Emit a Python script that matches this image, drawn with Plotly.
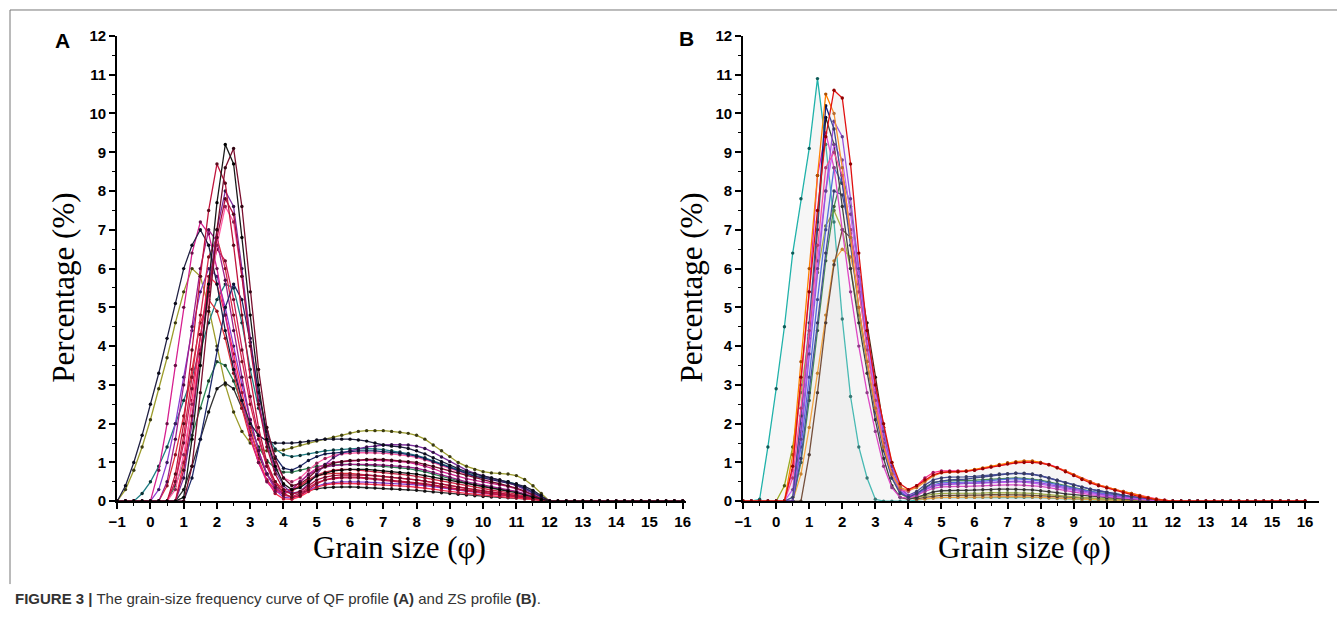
import plotly.graph_objects as go

# grain size grid (phi), -1 .. 12 every 0.25, then the flat tail up to 16
phi = [-1.0, -0.75, -0.5, -0.25, 0.0, 0.25, 0.5, 0.75, 1.0, 1.25, 1.5, 1.75, 2.0,
       2.25, 2.5, 2.75, 3.0, 3.25, 3.5, 3.75, 4.0, 4.25, 4.5, 4.75, 5.0, 5.25,
       5.5, 5.75, 6.0, 6.25, 6.5, 6.75, 7.0, 7.25, 7.5, 7.75, 8.0, 8.25, 8.5,
       8.75, 9.0, 9.25, 9.5, 9.75, 10.0, 10.25, 10.5, 10.75, 11.0, 11.25, 11.5, 11.75, 12.0]
phi_tail = [12.25, 12.5, 12.75, 13.0, 13.25, 13.5, 13.75, 14.0,
            14.25, 14.5, 14.75, 15.0, 15.25, 15.5, 15.75, 16.0]
zero_tail = [0, 0, 0, 0, 0, 0, 0, 0, 0, 0, 0, 0, 0, 0, 0, 0]

x_ticks = [-1, 0, 1, 2, 3, 4, 5, 6, 7, 8, 9, 10, 11, 12, 13, 14, 15, 16]
y_ticks = [0, 1, 2, 3, 4, 5, 6, 7, 8, 9, 10, 11, 12]

# ---- QF profile (A), percentage per grain-size class ----
qf_1 = [0, 0, 0, 0, 0, 0, 0, 0, 0.1, 1.6, 3.5, 5.6, 7.7,
        9.2, 8.7, 6.8, 4.8, 3.0, 1.6, 0.9, 0.45, 0.3, 0.35, 0.5, 0.65, 0.72,
        0.78, 0.8, 0.82, 0.82, 0.82, 0.8, 0.78, 0.76, 0.74, 0.72, 0.7, 0.66, 0.62,
        0.58, 0.54, 0.5, 0.46, 0.42, 0.38, 0.34, 0.3, 0.26, 0.22, 0.16, 0.1, 0.04, 0]
qf_2 = [0, 0, 0, 0, 0, 0, 0, 0, 0, 0.9, 2.8, 4.9, 7.0,
        8.6, 9.1, 7.6, 5.4, 3.4, 1.9, 1.1, 0.6, 0.4, 0.45, 0.6, 0.8, 0.9,
        0.98, 1.02, 1.05, 1.06, 1.08, 1.08, 1.08, 1.06, 1.04, 1.02, 1.0, 0.95, 0.9,
        0.84, 0.78, 0.72, 0.66, 0.6, 0.55, 0.5, 0.45, 0.4, 0.34, 0.26, 0.16, 0.06, 0]
qf_3 = [0, 0, 0, 0, 0, 0, 0, 0, 0.6, 2.0, 3.8, 5.5, 7.0,
        8.0, 7.6, 6.0, 4.2, 2.6, 1.5, 0.8, 0.4, 0.2, 0.25, 0.45, 0.7, 0.95,
        1.12, 1.24, 1.3, 1.35, 1.4, 1.42, 1.45, 1.46, 1.46, 1.45, 1.42, 1.36, 1.26,
        1.14, 1.02, 0.9, 0.8, 0.72, 0.66, 0.6, 0.55, 0.48, 0.4, 0.3, 0.2, 0.08, 0]
qf_4 = [0, 0, 0, 0, 0, 0, 0, 0.7, 2.0, 3.9, 5.8, 7.5, 8.7,
        8.2, 6.6, 4.8, 3.2, 1.9, 1.0, 0.5, 0.2, 0.1, 0.15, 0.3, 0.45, 0.55,
        0.6, 0.62, 0.62, 0.62, 0.6, 0.58, 0.56, 0.54, 0.52, 0.5, 0.48, 0.45, 0.42,
        0.38, 0.35, 0.32, 0.29, 0.26, 0.23, 0.2, 0.17, 0.14, 0.11, 0.08, 0.05, 0.02, 0]
qf_5 = [0, 0.3, 0.8, 1.4, 2.1, 2.9, 3.7, 4.6, 5.4, 6.0, 5.8, 5.0, 4.0,
        3.0, 2.3, 1.8, 1.5, 1.35, 1.3, 1.3, 1.32, 1.38, 1.45, 1.5, 1.55, 1.6,
        1.65, 1.7, 1.76, 1.8, 1.82, 1.82, 1.82, 1.8, 1.78, 1.75, 1.7, 1.6, 1.45,
        1.3, 1.15, 1.0, 0.9, 0.82, 0.76, 0.73, 0.72, 0.7, 0.66, 0.56, 0.4, 0.2, 0]
qf_6 = [0, 0.4, 1.0, 1.7, 2.5, 3.3, 4.2, 5.1, 6.0, 6.6, 7.0, 6.6, 5.6,
        4.4, 3.4, 2.6, 2.0, 1.7, 1.55, 1.5, 1.5, 1.5, 1.52, 1.55, 1.58, 1.6,
        1.6, 1.6, 1.6, 1.58, 1.55, 1.5, 1.45, 1.42, 1.4, 1.36, 1.3, 1.22, 1.12,
        1.02, 0.92, 0.84, 0.76, 0.7, 0.65, 0.6, 0.55, 0.5, 0.45, 0.38, 0.28, 0.15, 0]
qf_7 = [0, 0, 0, 0, 0, 0, 0, 0.5, 1.7, 3.2, 4.8, 6.3, 6.8,
        6.0, 4.8, 3.6, 2.5, 1.6, 0.9, 0.5, 0.3, 0.3, 0.4, 0.55, 0.68, 0.75,
        0.8, 0.82, 0.82, 0.8, 0.78, 0.76, 0.74, 0.72, 0.7, 0.67, 0.64, 0.6, 0.56,
        0.52, 0.48, 0.44, 0.4, 0.36, 0.32, 0.28, 0.25, 0.22, 0.18, 0.14, 0.09, 0.04, 0]
qf_8 = [0, 0, 0, 0, 0, 0.8, 2.0, 3.5, 5.0, 6.4, 7.2, 6.9, 6.0,
        4.8, 3.6, 2.6, 1.7, 1.0, 0.5, 0.25, 0.2, 0.3, 0.5, 0.7, 0.85, 0.95,
        1.0, 1.02, 1.04, 1.05, 1.06, 1.06, 1.05, 1.04, 1.02, 1.0, 0.96, 0.9, 0.84,
        0.76, 0.7, 0.64, 0.58, 0.54, 0.5, 0.46, 0.42, 0.38, 0.32, 0.24, 0.15, 0.06, 0]
qf_9 = [0, 0, 0, 0, 0, 0, 0, 0, 0, 0.6, 1.6, 2.7, 3.9,
        5.0, 5.6, 5.2, 4.1, 2.8, 1.8, 1.15, 0.85, 0.8, 0.9, 1.05, 1.15, 1.22,
        1.24, 1.26, 1.28, 1.3, 1.3, 1.3, 1.28, 1.26, 1.24, 1.2, 1.16, 1.1, 1.02,
        0.94, 0.86, 0.78, 0.7, 0.64, 0.6, 0.56, 0.52, 0.48, 0.42, 0.34, 0.22, 0.1, 0]
qf_10 = [0, 0, 0, 0, 0, 0, 0, 0, 0.3, 0.9, 1.6, 2.3, 2.9,
         3.05, 2.9, 2.4, 1.8, 1.2, 0.7, 0.4, 0.25, 0.2, 0.22, 0.28, 0.32, 0.35,
         0.36, 0.37, 0.37, 0.36, 0.35, 0.34, 0.33, 0.32, 0.31, 0.3, 0.28, 0.26, 0.24,
         0.22, 0.2, 0.18, 0.16, 0.14, 0.12, 0.11, 0.1, 0.09, 0.08, 0.06, 0.04, 0.02, 0]
qf_11 = [0, 0, 0, 0, 0, 0, 0.4, 1.2, 2.2, 3.4, 4.6, 5.2, 4.9,
         4.2, 3.3, 2.4, 1.6, 1.0, 0.55, 0.3, 0.2, 0.25, 0.4, 0.55, 0.65, 0.7,
         0.72, 0.72, 0.72, 0.7, 0.68, 0.66, 0.64, 0.62, 0.6, 0.58, 0.55, 0.52, 0.48,
         0.44, 0.4, 0.36, 0.33, 0.3, 0.27, 0.24, 0.21, 0.18, 0.15, 0.11, 0.07, 0.03, 0]
qf_12 = [0, 0, 0, 0, 0, 0, 0, 0.4, 1.0, 1.7, 2.4, 3.1, 3.6,
         3.5, 3.1, 2.5, 1.9, 1.4, 1.05, 0.85, 0.75, 0.75, 0.8, 0.85, 0.9, 0.92,
         0.94, 0.95, 0.95, 0.94, 0.93, 0.92, 0.9, 0.88, 0.86, 0.84, 0.8, 0.76, 0.7,
         0.64, 0.58, 0.52, 0.47, 0.42, 0.38, 0.34, 0.31, 0.28, 0.24, 0.18, 0.11, 0.05, 0]
qf_13 = [0, 0, 0, 0, 0, 0.3, 1.0, 2.0, 3.2, 4.4, 5.4, 6.0, 5.8,
         5.0, 4.0, 3.0, 2.1, 1.3, 0.7, 0.3, 0.1, 0.08, 0.15, 0.28, 0.38, 0.45,
         0.48, 0.5, 0.5, 0.5, 0.49, 0.48, 0.47, 0.46, 0.45, 0.44, 0.42, 0.4, 0.37,
         0.34, 0.31, 0.28, 0.25, 0.22, 0.2, 0.18, 0.16, 0.14, 0.12, 0.09, 0.06, 0.03, 0]
qf_14 = [0, 0, 0, 0, 0, 0, 0, 0.3, 1.2, 2.5, 3.9, 5.3, 6.6,
         7.6, 7.2, 5.8, 4.2, 2.8, 1.7, 1.0, 0.6, 0.5, 0.6, 0.8, 0.98, 1.1,
         1.18, 1.22, 1.24, 1.25, 1.25, 1.25, 1.24, 1.22, 1.2, 1.17, 1.13, 1.07, 1.0,
         0.92, 0.84, 0.76, 0.7, 0.64, 0.6, 0.56, 0.52, 0.47, 0.41, 0.33, 0.22, 0.1, 0]
qf_15 = [0, 0, 0, 0, 0, 0, 0, 0.5, 1.5, 2.9, 4.3, 5.6, 6.5,
         6.2, 5.2, 3.9, 2.7, 1.7, 0.9, 0.4, 0.15, 0.12, 0.2, 0.35, 0.48, 0.55,
         0.58, 0.6, 0.6, 0.6, 0.58, 0.56, 0.54, 0.52, 0.5, 0.48, 0.46, 0.43, 0.4,
         0.36, 0.33, 0.3, 0.27, 0.24, 0.21, 0.19, 0.17, 0.15, 0.12, 0.09, 0.06, 0.03, 0]
qf_16 = [0, 0, 0, 0, 0, 0, 0.5, 1.6, 3.0, 4.5, 6.0, 7.0, 6.7,
         5.7, 4.4, 3.2, 2.1, 1.3, 0.7, 0.35, 0.2, 0.3, 0.5, 0.68, 0.8, 0.88,
         0.92, 0.94, 0.95, 0.95, 0.95, 0.94, 0.93, 0.92, 0.9, 0.88, 0.85, 0.8, 0.74,
         0.68, 0.62, 0.56, 0.5, 0.46, 0.42, 0.38, 0.34, 0.3, 0.25, 0.19, 0.12, 0.05, 0]
qf_17 = [0, 0, 0, 0, 0, 0, 0, 0, 1.0, 2.6, 4.3, 5.8, 5.6,
         4.8, 3.8, 2.8, 1.9, 1.1, 0.55, 0.2, 0.06, 0.05, 0.12, 0.25, 0.36, 0.42,
         0.45, 0.46, 0.46, 0.45, 0.44, 0.43, 0.42, 0.41, 0.4, 0.38, 0.36, 0.34, 0.31,
         0.28, 0.25, 0.22, 0.2, 0.18, 0.16, 0.14, 0.12, 0.1, 0.08, 0.06, 0.04, 0.02, 0]
qf_18 = [0, 0, 0, 0.2, 0.5, 0.9, 1.4, 2.0, 2.6, 3.2, 3.9, 4.6, 5.2,
         5.6, 5.5, 4.6, 3.4, 2.4, 1.7, 1.35, 1.2, 1.15, 1.18, 1.22, 1.26, 1.3,
         1.32, 1.34, 1.35, 1.36, 1.36, 1.35, 1.33, 1.3, 1.27, 1.23, 1.18, 1.12, 1.04,
         0.96, 0.88, 0.8, 0.72, 0.66, 0.62, 0.58, 0.54, 0.5, 0.44, 0.35, 0.24, 0.1, 0]
qf_19 = [0, 0, 0, 0, 0, 0, 0, 0, 0.8, 2.2, 3.8, 5.4, 6.8,
         7.8, 7.4, 5.8, 4.0, 2.5, 1.4, 0.7, 0.3, 0.18, 0.25, 0.4, 0.55, 0.62,
         0.66, 0.68, 0.68, 0.68, 0.67, 0.66, 0.64, 0.62, 0.6, 0.58, 0.55, 0.52, 0.48,
         0.44, 0.4, 0.36, 0.33, 0.3, 0.27, 0.24, 0.21, 0.18, 0.15, 0.11, 0.07, 0.03, 0]

# ---- ZS profile (B) ----
zs_1 = [0, 0, 0.05, 1.4, 2.9, 4.5, 6.4, 7.8, 9.1, 10.9, 9.2, 7.2, 4.7,
        2.7, 1.4, 0.6, 0.05, 0, 0, 0, 0, 0.03, 0.06, 0.08, 0.1, 0.1,
        0.1, 0.1, 0.1, 0.1, 0.1, 0.1, 0.1, 0.1, 0.1, 0.1, 0.09, 0.08, 0.07,
        0.06, 0.05, 0.04, 0.04, 0.03, 0.03, 0.02, 0.02, 0.01, 0.01, 0, 0, 0, 0]
zs_2 = [0, 0, 0, 0, 0, 0, 0.9, 3.2, 5.4, 7.5, 9.4, 10.6, 10.4,
        8.7, 6.4, 4.4, 3.0, 2.0, 1.0, 0.45, 0.3, 0.4, 0.55, 0.68, 0.74, 0.76,
        0.76, 0.77, 0.8, 0.84, 0.88, 0.92, 0.96, 0.99, 1.0, 1.0, 0.98, 0.94, 0.86,
        0.76, 0.66, 0.56, 0.47, 0.4, 0.34, 0.28, 0.22, 0.17, 0.12, 0.08, 0.04, 0.02, 0]
zs_3 = [0, 0, 0, 0, 0, 0, 1.2, 3.6, 6.0, 8.4, 10.5, 10.0, 8.6,
        6.8, 5.0, 3.6, 2.4, 1.4, 0.7, 0.35, 0.28, 0.35, 0.5, 0.65, 0.73, 0.75,
        0.76, 0.78, 0.82, 0.86, 0.9, 0.95, 0.99, 1.02, 1.04, 1.04, 1.0, 0.94, 0.86,
        0.78, 0.68, 0.58, 0.5, 0.42, 0.36, 0.3, 0.25, 0.2, 0.14, 0.09, 0.05, 0.02, 0]
zs_4 = [0, 0, 0, 0, 0, 0, 0.1, 2.2, 4.6, 7.2, 10.2, 9.6, 8.2,
        6.6, 5.0, 3.6, 2.3, 1.3, 0.6, 0.2, 0.1, 0.2, 0.35, 0.48, 0.52, 0.55,
        0.56, 0.57, 0.6, 0.62, 0.65, 0.68, 0.7, 0.72, 0.72, 0.7, 0.66, 0.6, 0.54,
        0.47, 0.41, 0.36, 0.31, 0.27, 0.23, 0.19, 0.15, 0.12, 0.09, 0.06, 0.03, 0.01, 0]
zs_5 = [0, 0, 0, 0, 0, 0, 0, 1.8, 4.2, 7.0, 9.9, 9.2, 7.6,
        6.0, 4.6, 3.3, 2.1, 1.1, 0.4, 0.1, 0.05, 0.1, 0.18, 0.24, 0.27, 0.28,
        0.28, 0.28, 0.29, 0.3, 0.3, 0.31, 0.31, 0.31, 0.3, 0.29, 0.27, 0.25, 0.22,
        0.19, 0.17, 0.15, 0.13, 0.11, 0.09, 0.08, 0.06, 0.05, 0.04, 0.03, 0.02, 0.01, 0]
zs_6 = [0, 0, 0, 0, 0, 0, 0.8, 3.0, 5.4, 8.4, 9.5, 8.6, 7.0,
        5.4, 4.0, 2.8, 1.8, 0.9, 0.35, 0.1, 0.08, 0.15, 0.25, 0.33, 0.37, 0.38,
        0.38, 0.38, 0.39, 0.4, 0.41, 0.42, 0.42, 0.42, 0.41, 0.4, 0.38, 0.35, 0.31,
        0.27, 0.23, 0.2, 0.17, 0.14, 0.12, 0.1, 0.08, 0.06, 0.05, 0.03, 0.02, 0.01, 0]
zs_7 = [0, 0, 0, 0, 0, 0, 0.6, 2.4, 4.4, 6.6, 8.6, 9.0, 8.4,
        7.0, 5.4, 3.9, 2.6, 1.5, 0.7, 0.3, 0.25, 0.4, 0.6, 0.74, 0.78, 0.78,
        0.78, 0.78, 0.8, 0.84, 0.88, 0.93, 0.97, 1.0, 1.02, 1.02, 1.0, 0.95, 0.87,
        0.78, 0.68, 0.58, 0.5, 0.42, 0.36, 0.3, 0.25, 0.2, 0.15, 0.1, 0.06, 0.03, 0]
zs_8 = [0, 0, 0, 0, 0, 0, 0, 1.4, 3.2, 5.2, 7.0, 8.6, 8.2,
        7.0, 5.6, 4.0, 2.6, 1.5, 0.7, 0.25, 0.1, 0.15, 0.3, 0.42, 0.47, 0.48,
        0.48, 0.49, 0.5, 0.52, 0.54, 0.56, 0.57, 0.58, 0.57, 0.55, 0.52, 0.48, 0.43,
        0.38, 0.33, 0.29, 0.25, 0.21, 0.18, 0.15, 0.12, 0.1, 0.08, 0.05, 0.03, 0.01, 0]
zs_9 = [0, 0, 0, 0, 0, 0, 0, 1.0, 2.6, 4.4, 6.2, 7.6, 8.4,
        7.6, 6.0, 4.3, 2.9, 1.7, 0.8, 0.3, 0.12, 0.2, 0.35, 0.48, 0.52, 0.53,
        0.53, 0.53, 0.54, 0.55, 0.57, 0.58, 0.59, 0.6, 0.59, 0.57, 0.54, 0.5, 0.45,
        0.4, 0.35, 0.3, 0.26, 0.22, 0.19, 0.16, 0.13, 0.1, 0.08, 0.05, 0.03, 0.01, 0]
zs_10 = [0, 0, 0, 0, 0, 0.4, 1.4, 2.8, 4.3, 5.9, 7.1, 7.5, 7.0,
         6.0, 4.8, 3.6, 2.4, 1.4, 0.6, 0.2, 0.08, 0.1, 0.14, 0.18, 0.2, 0.2,
         0.2, 0.2, 0.2, 0.21, 0.22, 0.22, 0.22, 0.22, 0.21, 0.2, 0.19, 0.17, 0.15,
         0.13, 0.11, 0.1, 0.08, 0.07, 0.06, 0.05, 0.04, 0.03, 0.02, 0.02, 0.01, 0, 0]
zs_11 = [0, 0, 0, 0, 0, 0, 0, 0, 1.2, 2.8, 4.6, 6.1, 7.0,
         6.8, 5.9, 4.6, 3.2, 1.9, 0.9, 0.3, 0.08, 0.06, 0.1, 0.13, 0.15, 0.15,
         0.15, 0.15, 0.16, 0.16, 0.17, 0.17, 0.17, 0.17, 0.16, 0.15, 0.14, 0.13, 0.12,
         0.1, 0.09, 0.08, 0.07, 0.06, 0.05, 0.04, 0.03, 0.02, 0.02, 0.01, 0.01, 0, 0]
zs_12 = [0, 0, 0, 0, 0, 0, 0, 0.7, 1.9, 3.3, 4.8, 6.2, 6.5,
         6.3, 5.4, 4.2, 3.0, 1.9, 1.0, 0.4, 0.1, 0.05, 0.06, 0.08, 0.1, 0.1,
         0.1, 0.1, 0.1, 0.11, 0.11, 0.12, 0.12, 0.12, 0.12, 0.11, 0.1, 0.09, 0.08,
         0.07, 0.06, 0.05, 0.04, 0.04, 0.03, 0.03, 0.02, 0.02, 0.01, 0.01, 0, 0, 0]
zs_13 = [0, 0, 0, 0, 0, 0, 0, 1.6, 3.8, 6.0, 8.0, 9.8, 9.4,
         7.8, 6.0, 4.4, 3.0, 1.8, 0.9, 0.35, 0.15, 0.2, 0.3, 0.38, 0.42, 0.44,
         0.45, 0.46, 0.47, 0.48, 0.5, 0.51, 0.52, 0.52, 0.51, 0.5, 0.47, 0.43, 0.39,
         0.34, 0.3, 0.26, 0.22, 0.19, 0.16, 0.13, 0.11, 0.09, 0.07, 0.05, 0.03, 0.01, 0]
zs_14 = [0, 0, 0, 0, 0, 0, 0.3, 2.0, 4.0, 6.2, 8.0, 9.2, 8.8,
         7.4, 5.8, 4.2, 2.8, 1.6, 0.8, 0.3, 0.12, 0.2, 0.32, 0.4, 0.44, 0.45,
         0.45, 0.46, 0.46, 0.47, 0.48, 0.49, 0.5, 0.5, 0.49, 0.47, 0.44, 0.4, 0.36,
         0.31, 0.27, 0.23, 0.2, 0.17, 0.14, 0.12, 0.1, 0.08, 0.06, 0.04, 0.02, 0.01, 0]
zs_15 = [0, 0, 0, 0, 0, 0, 0, 1.1, 2.8, 4.6, 6.4, 8.0, 7.9,
         6.9, 5.6, 4.2, 2.9, 1.8, 0.9, 0.35, 0.15, 0.25, 0.42, 0.55, 0.6, 0.62,
         0.62, 0.63, 0.64, 0.66, 0.68, 0.7, 0.71, 0.72, 0.71, 0.69, 0.65, 0.6, 0.54,
         0.48, 0.42, 0.36, 0.31, 0.27, 0.23, 0.19, 0.15, 0.12, 0.09, 0.06, 0.03, 0.01, 0]

# drawing order and colours (line, marker)
qf_series = [
    (qf_5, '#9c9c2c', '#3a3a10'), (qf_12, '#2e8b57', '#1c3d2a'), (qf_18, '#1f7f86', '#0c3033'),
    (qf_10, '#333333', '#111111'), (qf_13, '#8a3fd1', '#3a1a60'), (qf_11, '#e0303a', '#8a1020'),
    (qf_17, '#ff3050', '#a01030'), (qf_7, '#d42a4a', '#7a1020'), (qf_15, '#c81e5a', '#6a0a2a'),
    (qf_8, '#d61f8f', '#6a0f45'), (qf_16, '#a0208a', '#4a0a40'), (qf_14, '#ff5fa8', '#8a2050'),
    (qf_3, '#7b2d9c', '#2a1040'), (qf_9, '#1f2a6b', '#0d1233'), (qf_6, '#222244', '#0a0a1a'),
    (qf_19, '#b01040', '#50061c'), (qf_4, '#c0143c', '#5a0a1c'),
    (qf_2, '#7a0f2e', '#300512'), (qf_1, '#1a1a1a', '#000000'),
]
zs_series = [
    (zs_1, '#20b2aa', '#0d5c58'), (zs_12, '#ff9a1a', '#c06a00'), (zs_11, '#5a2a10', '#2a1005'),
    (zs_10, '#9aaa20', '#4a5a10'), (zs_9, '#1f7a2f', '#0d3a15'), (zs_8, '#3050e0', '#15257a'),
    (zs_15, '#202a8a', '#0a0f40'), (zs_5, '#1a1a1a', '#000000'), (zs_6, '#e020c0', '#7a1070'),
    (zs_14, '#c040ff', '#5a1a7a'), (zs_13, '#8a30e0', '#40107a'), (zs_4, '#1a237e', '#0a0f40'),
    (zs_7, '#ff2d8a', '#a0105a'), (zs_3, '#ff7f00', '#b05000'), (zs_2, '#e01010', '#900000'),
]

# the photo of the page comes back inset by 8px on each side, so positions are
# taken from the reference picture and mapped onto the 1326x619 inner box
W, H = 1342, 635


def px(X):
    return (X - 8) / 1326


def py(Y):
    return 1 - (Y - 8) / 619


x_all = phi + phi_tail
fig = go.Figure()

for ys, lc, mc in qf_series:
    fig.add_trace(go.Scatter(x=x_all, y=ys + zero_tail, mode='lines+markers',
                             line=dict(color=lc, width=1.3),
                             marker=dict(color=mc, size=3.4),
                             cliponaxis=False, showlegend=False,
                             xaxis='x', yaxis='y'))

for ys, lc, mc in zs_series:
    fill = 'tozeroy' if (ys is zs_1 or ys is zs_2) else None
    fig.add_trace(go.Scatter(x=x_all, y=ys + zero_tail, mode='lines+markers',
                             line=dict(color=lc, width=1.3),
                             marker=dict(color=mc, size=3.4),
                             fill=fill, fillcolor='rgba(215,215,215,0.22)',
                             cliponaxis=False, showlegend=False,
                             xaxis='x2', yaxis='y2'))

tick_font = dict(family='Liberation Sans, Arial', size=15, color='black', weight='bold')


def x_axis(domain, top, anchor):
    return dict(domain=domain, range=[-1, top], anchor=anchor,
                tickmode='array', tickvals=x_ticks,
                showline=True, linecolor='black', linewidth=2,
                ticks='outside', ticklen=6, tickwidth=1.6, tickcolor='black',
                minor=dict(dtick=0.5, ticks='outside', ticklen=3, tickwidth=1.3, tickcolor='black'),
                showgrid=False, zeroline=False, tickfont=tick_font)


def y_axis(anchor):
    return dict(domain=[py(501), py(35)], range=[0, 12], anchor=anchor,
                tickmode='array', tickvals=y_ticks,
                showline=True, linecolor='black', linewidth=2,
                ticks='outside', ticklen=6, tickwidth=1.6, tickcolor='black',
                minor=dict(dtick=0.5, ticks='outside', ticklen=3, tickwidth=1.3, tickcolor='black'),
                showgrid=False, zeroline=False, tickfont=tick_font)


serif = dict(family='Liberation Serif, Times New Roman', size=31, color='black')
letter = dict(family='Liberation Sans, Arial', size=21, color='black', weight='bold')
annotations = [
    dict(text='A', x=px(61), y=py(40), font=letter),
    dict(text='B', x=px(684), y=py(38), font=letter),
    dict(text='Percentage (%)', x=px(62), y=py(287), textangle=-90, font=serif),
    dict(text='Percentage (%)', x=px(690), y=py(287), textangle=-90, font=serif),
    dict(text='Grain size (φ)', x=px(398), y=py(547), font=serif),
    dict(text='Grain size (φ)', x=px(1022), y=py(547), font=serif),
]
for a in annotations:
    a.update(xref='paper', yref='paper', xanchor='center', yanchor='middle', showarrow=False)
annotations.append(dict(
    text='<b>FIGURE 3 |</b> The grain-size frequency curve of QF profile <b>(A)</b> and ZS profile <b>(B)</b>.',
    xref='paper', yref='paper', x=px(12), y=py(598), xanchor='left', yanchor='middle',
    showarrow=False, font=dict(family='Liberation Sans, Arial', size=15, color='#333333')))

fig.update_layout(
    width=W, height=H,
    margin=dict(l=0, r=0, t=0, b=0),
    paper_bgcolor='white', plot_bgcolor='white',
    showlegend=False,
    xaxis=x_axis([px(116), px(684)], 16.1, 'y'),
    yaxis=y_axis('x'),
    xaxis2=x_axis([px(741), px(1316)], 16.42, 'y2'),
    yaxis2=y_axis('x2'),
    annotations=annotations,
    shapes=[
        dict(type='line', xref='paper', yref='paper', x0=px(9), x1=1, y0=py(9), y1=py(9),
             line=dict(color='#777777', width=1)),
        dict(type='line', xref='paper', yref='paper', x0=px(9), x1=px(9), y0=py(9), y1=py(584),
             line=dict(color='#777777', width=1)),
    ],
)

fig.write_html("out.html", config={'displayModeBar': False},
               post_script="document.body.style.margin='0';")
